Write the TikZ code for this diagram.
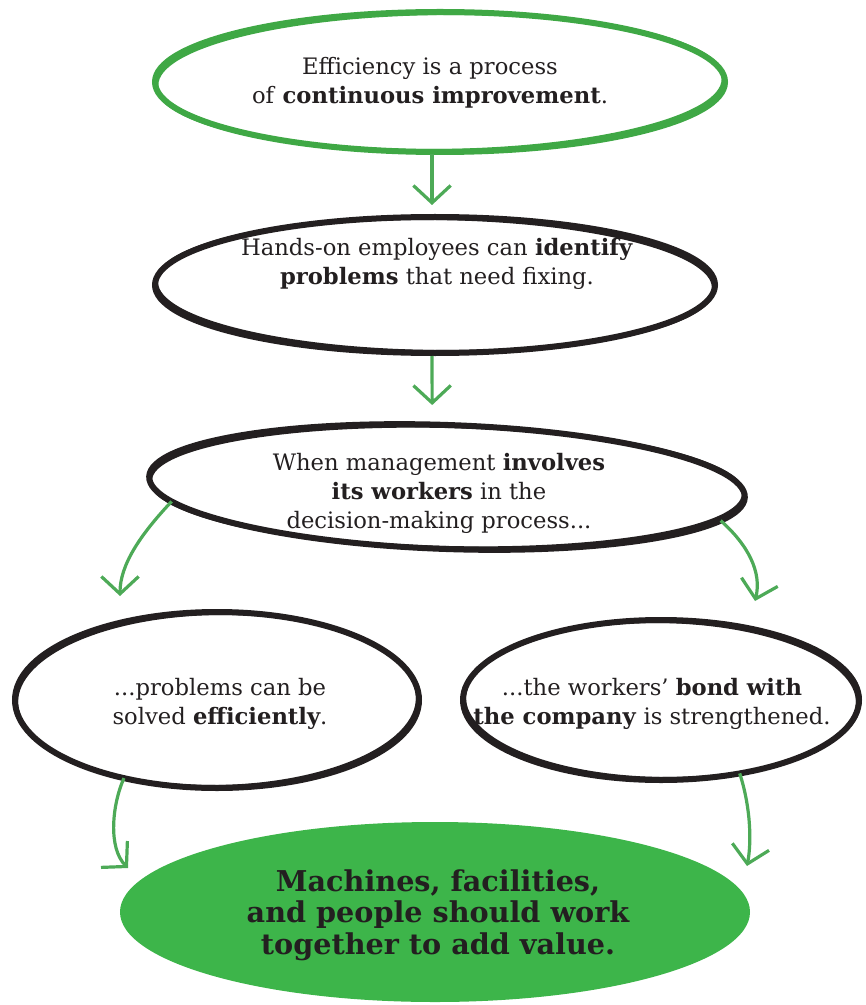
\documentclass[tikz,border=0pt]{standalone}
\usepackage{fontspec}
\setmainfont{DejaVu Serif}
\usetikzlibrary{arrows.meta,shapes.geometric,calc}
\definecolor{ringgreen}{HTML}{3FA845}
\definecolor{fillgreen}{HTML}{3DB54A}
\definecolor{arrowgreen}{HTML}{4DAA57}
\definecolor{ink}{HTML}{231F20}
\begin{document}
\begin{tikzpicture}[x=0.75pt,y=-0.75pt,
  bubble/.style={ellipse, inner sep=0pt, outer sep=0pt, draw=ink, line width=4.5pt},
  greenring/.style={bubble, draw=ringgreen},
  solidbubble/.style={ellipse, inner sep=0pt, outer sep=0pt, fill=fillgreen, draw=none},
  sketch/.style={draw=ink, line width=2.6pt},
  txt/.style={text=ink, align=center, inner sep=0pt, font=\fontsize{17}{21.75}\selectfont},
  bigtxt/.style={text=ink, align=center, inner sep=0pt, font=\fontsize{21.5}{23.5}\selectfont\bfseries},
  flow/.style={draw=arrowgreen, line width=2.4pt, -{Straight Barb[length=13pt,width=28pt]}}
]
\path[use as bounding box] (0,0) rectangle (865,1005);

% bubbles
\node[greenring, minimum width=427.5pt, minimum height=105pt] (e1) at (440,82) {};
\draw[sketch, draw=ringgreen] (e1.center) ellipse [x radius=212.5pt, y radius=51.5pt, rotate=0.6];

\node[bubble, minimum width=420pt, minimum height=102pt] (e2) at (435,285) {};
\draw[sketch] (e2.center) ellipse [x radius=209pt, y radius=50pt, rotate=-0.6];

\node[bubble, minimum width=447pt, minimum height=93pt, rotate=-2] (e3) at (447,487) {};
\draw[sketch] (e3.center) ellipse [x radius=222.5pt, y radius=45.5pt, rotate=-1.4];

\node[bubble, minimum width=303pt, minimum height=132pt] (e4) at (217,700) {};
\draw[sketch] (e4.center) ellipse [x radius=150.5pt, y radius=65pt, rotate=0.8];

\node[bubble, minimum width=297pt, minimum height=120pt] (e5) at (661,700) {};
\draw[sketch] (e5.center) ellipse [x radius=147.5pt, y radius=59pt, rotate=-0.8];

\node[solidbubble, minimum width=472.5pt, minimum height=135pt] (e6) at (435,912) {};

% texts
\node[txt] (t1) at (430,83) {Efficiency is a process\\of \textbf{continuous improvement}.};
\node[txt] (t2) at (437,264) {Hands-on employees can \textbf{identify}\\\textbf{problems} that need fixing.};
\node[txt] (t3) at (439,493) {When management \textbf{involves}\\\textbf{its workers} in the\\decision-making process...};
\node[txt] (t4) at (220,704) {...problems can be\\solved \textbf{efficiently}.};
\node[txt] (t5) at (652,704) {...the workers’ \textbf{bond with}\\\textbf{the company} is strengthened.};
\node[bigtxt] (t6) at (438,915) {Machines, facilities,\\and people should work\\together to add value.};

% connectors
\coordinate (l1) at (120,596);
\coordinate (r1) at (755,601);
\coordinate (b1) at (128,868);
\coordinate (b2) at (747,866);

\draw[flow] ($(e1.south)+(-8,2)$) -- ($(e2.north)+(-3,-12)$);
\draw[flow] ($(e2.south)+(-3,3)$) -- ($(e3.north)+(-17,-20)$);
\draw[flow] (e3.185) .. controls (140,535) and (120,565) .. (l1);
\draw[flow] (e3.-5) .. controls (748,545) and (762,572) .. (r1);
\draw[flow] (e4.220) .. controls (112,805) and (108,848) .. (b1);
\draw[flow] (e5.-43) .. controls (750,805) and (752,840) .. (b2);
\end{tikzpicture}
\end{document}
